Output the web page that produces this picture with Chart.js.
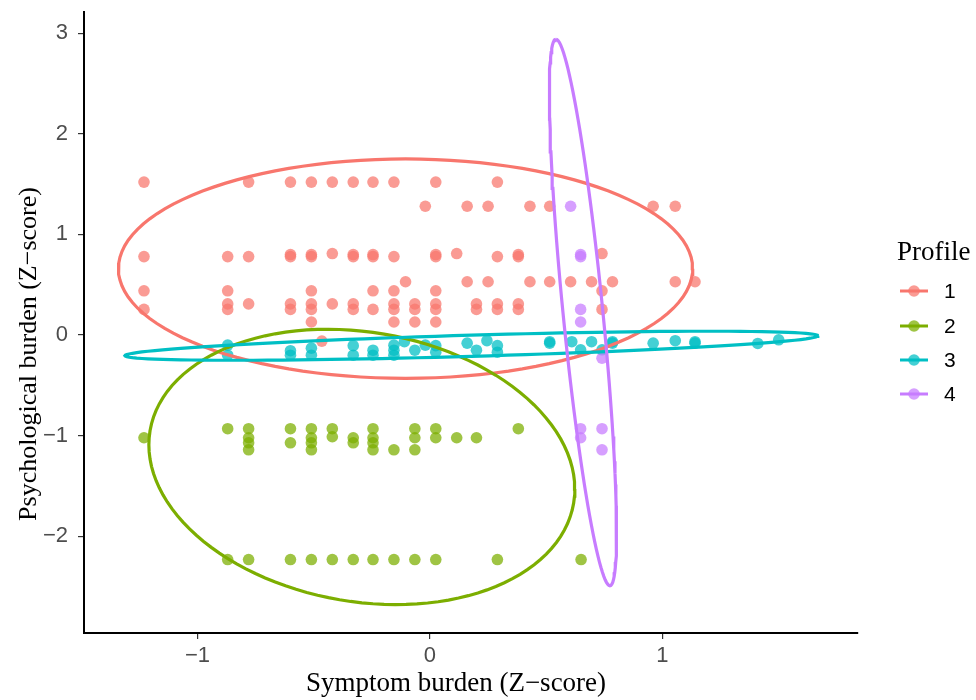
<!DOCTYPE html>
<html>
<head>
<meta charset="utf-8">
<script src="https://cdn.jsdelivr.net/npm/chart.js@4.4.1/dist/chart.umd.min.js"></script>
<style>
  html, body { margin: 0; padding: 0; background: #fff; }
</style>
</head>
<body>
<canvas id="profile-scatter" width="976" height="700"></canvas>
<script>
// points per profile, [symptom, psychological]
var profile1 = [
  [-1.23,1.52],[-0.78,1.52],[-0.60,1.52],[-0.51,1.52],[-0.42,1.52],[-0.33,1.52],[-0.245,1.52],[-0.155,1.52],[0.025,1.52],[0.29,1.52],
  [-0.02,1.28],[0.16,1.28],[0.25,1.28],[0.43,1.28],[0.515,1.28],[0.96,1.28],[1.055,1.28],
  [-0.60,0.80],[-0.51,0.80],[-0.42,0.81],[-0.33,0.80],[-0.245,0.80],[0.025,0.80],[0.115,0.81],[0.38,0.80],[0.74,0.81],
  [-1.23,0.78],[-0.87,0.78],[-0.78,0.78],[-0.60,0.78],[-0.51,0.78],[-0.33,0.78],[-0.245,0.78],[-0.155,0.78],[0.025,0.78],[0.29,0.78],[0.38,0.78],
  [-0.105,0.53],[0.16,0.53],[0.25,0.53],[0.43,0.53],[0.515,0.53],[0.605,0.53],[0.695,0.53],[0.785,0.53],[1.055,0.53],[1.14,0.53],
  [-1.23,0.44],[-0.87,0.44],[-0.51,0.44],[-0.245,0.44],[-0.155,0.44],[0.025,0.44],[0.74,0.44],
  [-0.87,0.31],[-0.78,0.31],[-0.60,0.31],[-0.51,0.31],[-0.42,0.31],[-0.33,0.31],[-0.155,0.31],[-0.065,0.31],[0.025,0.31],[0.20,0.31],[0.29,0.31],[0.38,0.31],
  [-1.23,0.255],[-0.87,0.255],[-0.60,0.255],[-0.51,0.255],[-0.33,0.255],[-0.245,0.255],[-0.155,0.255],[-0.065,0.255],[0.025,0.255],[0.20,0.255],[0.29,0.255],[0.38,0.255],[0.74,0.255],
  [-0.51,0.13],[-0.155,0.13],[-0.065,0.13],[0.025,0.13],
  [-0.465,-0.06]
];
var profile2 = [
  [-0.87,-0.93],[-0.78,-0.93],[-0.60,-0.93],[-0.51,-0.93],[-0.42,-0.93],[-0.245,-0.93],[-0.065,-0.93],[0.025,-0.93],[0.38,-0.93],
  [-1.23,-1.02],[-0.78,-1.02],[-0.51,-1.02],[-0.42,-1.01],[-0.33,-1.02],[-0.245,-1.02],[-0.065,-1.02],[0.025,-1.02],[0.115,-1.02],[0.20,-1.02],
  [-0.78,-1.07],[-0.60,-1.07],[-0.51,-1.07],[-0.33,-1.07],[-0.245,-1.07],
  [-0.78,-1.14],[-0.51,-1.14],[-0.245,-1.14],[-0.155,-1.14],[-0.065,-1.14],
  [-0.87,-2.23],[-0.78,-2.23],[-0.60,-2.23],[-0.51,-2.23],[-0.42,-2.23],[-0.33,-2.23],[-0.245,-2.23],[-0.155,-2.23],[-0.065,-2.23],[0.025,-2.23],[0.29,-2.23],[0.65,-2.23]
];
var profile3 = [
  [-0.87,-0.10],[-0.87,-0.20],[-0.60,-0.155],[-0.60,-0.20],[-0.51,-0.13],[-0.51,-0.20],[-0.33,-0.105],[-0.33,-0.20],
  [-0.245,-0.15],[-0.245,-0.20],[-0.155,-0.10],[-0.155,-0.15],[-0.155,-0.20],[-0.11,-0.066],[-0.065,-0.15],[-0.02,-0.10],
  [0.025,-0.105],[0.025,-0.17],[0.16,-0.08],[0.20,-0.15],[0.245,-0.056],[0.29,-0.105],[0.29,-0.17],[0.515,-0.066],[0.515,-0.08],
  [0.61,-0.066],[0.648,-0.146],[0.695,-0.066],[0.74,-0.146],[0.785,-0.066],[0.785,-0.08],[0.96,-0.08],[1.055,-0.056],
  [1.14,-0.066],[1.14,-0.08],[1.41,-0.083],[1.50,-0.047]
];
var profile4 = [
  [0.605,1.28],[0.648,0.80],[0.648,0.78],[0.648,0.255],[0.648,0.13],[0.74,-0.23],
  [0.648,-0.93],[0.74,-0.93],[0.648,-1.02],[0.74,-1.14]
];

// ellipse outlines: centre, then two conjugate half-diameters [cx, cy, ux, uy, vx, vy]
var ellipse1 = [-0.105, 0.66, 1.235, 0, 0, 1.09];
var ellipse2 = [-0.293, -1.31, 0.916, -0.22, 0, 1.35];
var ellipse3 = [0.178, -0.106, 1.49, 0.099, 0, 0.105];
var ellipse4 = [0.658, 0.225, -0.116, 2.715, 0.086, 0];

var profileNames = ["1", "2", "3", "4"];
var profileColors = ["#F8766D", "#7CAE00", "#00BFC4", "#C77CFF"];
var xTicks = [-1, 0, 1];
var yTicks = [-2, -1, 0, 1, 2, 3];

function toPoints(list) {
  return list.map(function (p) { return { x: p[0], y: p[1] }; });
}

function outline(e) {
  var pts = [];
  for (var i = 0; i <= 120; i++) {
    var t = i / 120 * Math.PI * 2;
    pts.push({ x: e[0] + e[2] * Math.cos(t) + e[4] * Math.sin(t),
               y: e[1] + e[3] * Math.cos(t) + e[5] * Math.sin(t) });
  }
  return pts;
}

var profiles = [profile1, profile2, profile3, profile4];
var ellipses = [ellipse1, ellipse2, ellipse3, ellipse4];
var datasets = [];

profiles.forEach(function (p, i) {
  datasets.push({
    type: 'scatter',
    label: profileNames[i],
    data: toPoints(p),
    backgroundColor: profileColors[i] + 'BB',
    borderWidth: 0,
    pointRadius: 5.8,
    order: 8 - i
  });
});
ellipses.forEach(function (e, i) {
  datasets.push({
    type: 'line',
    label: 'ellipse ' + profileNames[i],
    data: outline(e),
    borderColor: profileColors[i],
    borderWidth: 3.2,
    pointRadius: 0,
    fill: false,
    tension: 0,
    order: 3 - i
  });
});

// titles and legend, placed like the ggplot output
var decorations = {
  id: 'decorations',
  afterDraw: function (chart) {
    var ctx = chart.ctx;
    ctx.save();
    ctx.fillStyle = '#000';
    ctx.font = '27px "Liberation Serif", serif';
    ctx.textAlign = 'center';
    ctx.textBaseline = 'middle';
    ctx.fillText('Symptom burden (Z\u2212score)', 456, 684);

    ctx.save();
    ctx.font = '26px "Liberation Serif", serif';
    ctx.translate(29, 354);
    ctx.rotate(-Math.PI / 2);
    ctx.fillText('Psychological burden (Z\u2212score)', 0, 0);
    ctx.restore();

    ctx.textAlign = 'left';
    ctx.fillText('Profile', 897, 253);

    var ys = [291, 326, 360, 394];
    profileColors.forEach(function (c, i) {
      ctx.strokeStyle = c;
      ctx.lineWidth = 3;
      ctx.beginPath();
      ctx.moveTo(900, ys[i]);
      ctx.lineTo(928, ys[i]);
      ctx.stroke();
      ctx.fillStyle = c + 'BB';
      ctx.beginPath();
      ctx.arc(914, ys[i], 5.8, 0, Math.PI * 2);
      ctx.fill();
      ctx.fillStyle = '#000';
      ctx.font = '21px "Liberation Sans", Arial, sans-serif';
      ctx.fillText(profileNames[i], 944, ys[i] + 1);
    });
    ctx.restore();
  }
};

var tickFont = { family: '"Liberation Sans", Arial, sans-serif', size: 22 };

new Chart(document.getElementById('profile-scatter'), {
  data: { datasets: datasets },
  options: {
    responsive: false,
    animation: false,
    devicePixelRatio: 1,
    layout: { padding: { top: 12, right: 118, left: 0, bottom: 0 } },
    plugins: {
      legend: { display: false },
      tooltip: { enabled: false }
    },
    scales: {
      x: {
        type: 'linear',
        min: -1.488,
        max: 1.841,
        afterBuildTicks: function (s) { s.ticks = xTicks.map(function (v) { return { value: v }; }); },
        afterFit: function (s) { s.height = 67; s.paddingLeft = 0; s.paddingRight = 0; },
        grid: { display: true, drawOnChartArea: false, drawTicks: true, tickLength: 6, color: '#333', lineWidth: 1.2 },
        border: { display: true, color: '#000', width: 2 },
        ticks: {
          color: '#4D4D4D',
          padding: 4,
          font: tickFont,
          callback: function (v) { return v < 0 ? '\u2212' + Math.abs(v) : '' + v; }
        }
      },
      y: {
        type: 'linear',
        min: -2.96,
        max: 3.21,
        afterBuildTicks: function (s) { s.ticks = yTicks.map(function (v) { return { value: v }; }); },
        afterFit: function (s) { s.width = 84; s.paddingTop = 0; s.paddingBottom = 0; },
        grid: { display: true, drawOnChartArea: false, drawTicks: true, tickLength: 6, color: '#333', lineWidth: 1.2 },
        border: { display: true, color: '#000', width: 2 },
        ticks: {
          color: '#4D4D4D',
          padding: 10,
          font: tickFont,
          callback: function (v) { return v < 0 ? '\u2212' + Math.abs(v) : '' + v; }
        }
      }
    }
  },
  plugins: [decorations]
});
</script>
</body>
</html>
